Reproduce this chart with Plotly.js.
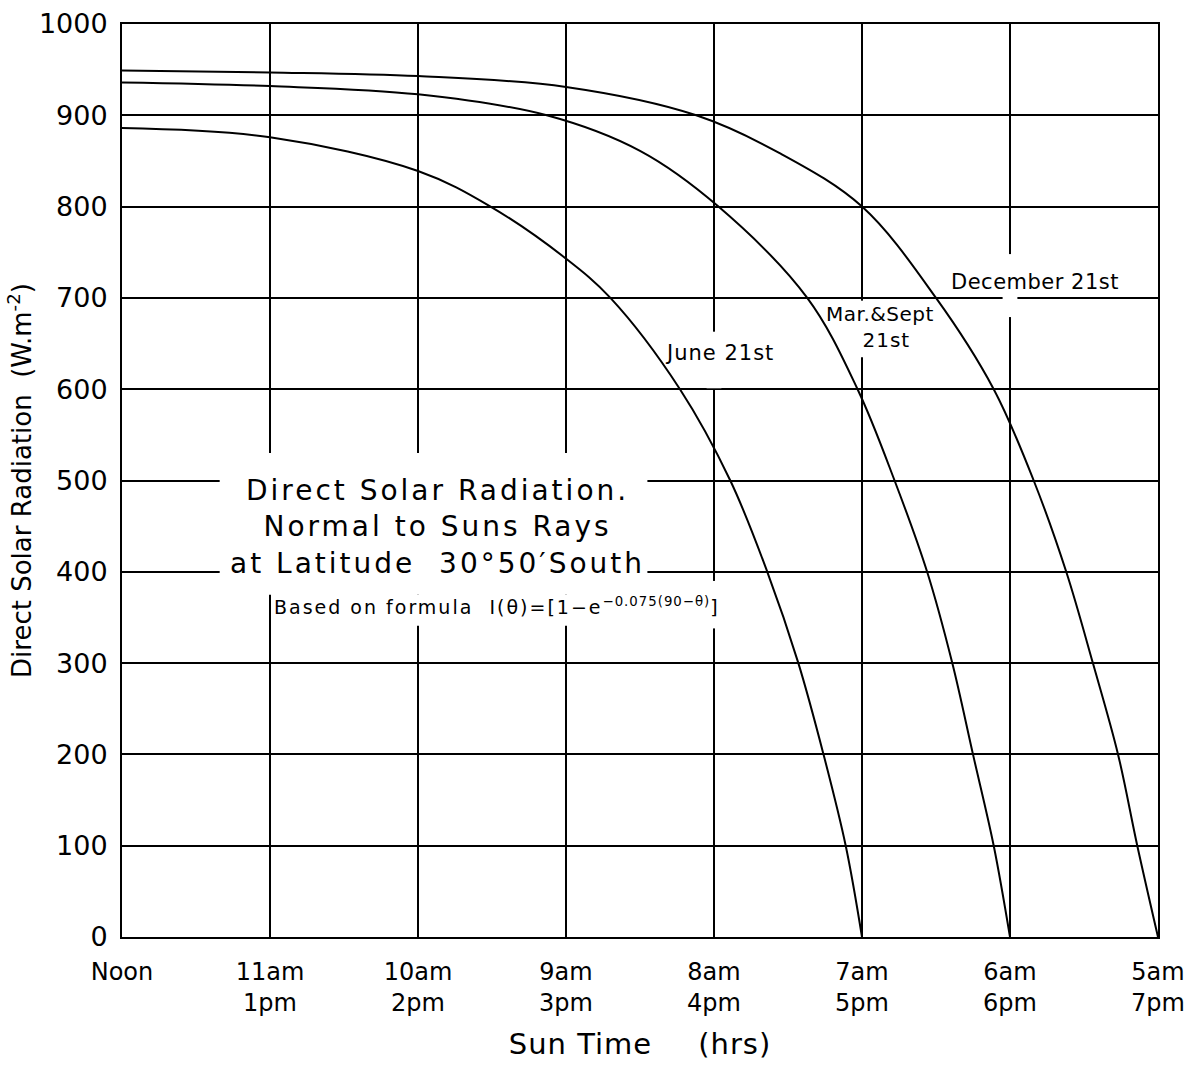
<!DOCTYPE html>
<html>
<head>
<meta charset="utf-8">
<script src="https://cdn.plot.ly/plotly-3.0.1.min.js"></script>
<style>
  html, body { margin: 0; padding: 0; background: #fff; }
  #chart { width: 1203px; height: 1067px; }
</style>
</head>
<body>
<div id="chart"></div>
<script>
// ---- data (hours from solar noon, W/m^2) ----
const hourTicks = [0, 1, 2, 3, 4, 5, 6, 7];
const hourLabels = ['Noon', '11am<br>1pm', '10am<br>2pm', '9am<br>3pm', '8am<br>4pm', '7am<br>5pm', '6am<br>6pm', '5am<br>7pm'];
const radTicks = [0, 100, 200, 300, 400, 500, 600, 700, 800, 900, 1000];

const juneHours = [0, 1, 2, 2.49, 3, 3.3, 3.77, 4.11, 4.36, 4.57, 4.74, 4.89, 5.0];
const juneRad   = [886, 876, 839, 800, 743, 700, 600, 500, 400, 300, 200, 100, 0];

const equinoxHours = [0, 1, 2, 2.87, 3.5, 4.03, 4.63, 4.97, 5.22, 5.44, 5.61, 5.75, 5.89, 6.0];
const equinoxRad   = [936, 932, 923, 900, 861, 800, 700, 600, 500, 400, 300, 200, 100, 0];

const decHours = [0, 1, 2, 3, 3.88, 4.45, 5.0, 5.5, 5.89, 6.16, 6.38, 6.56, 6.73, 6.86, 7.0];
const decRad   = [949, 947, 943, 931, 900, 858, 800, 700, 600, 500, 400, 300, 200, 100, 0];

const FONT = '"DejaVu Sans", "Liberation Sans", sans-serif';

function curve(x, y, name) {
  return {
    x: x, y: y, name: name, type: 'scatter', mode: 'lines',
    line: { color: '#000', width: 2, shape: 'spline', smoothing: 1 },
    hoverinfo: 'x+y', showlegend: false
  };
}

const data = [
  curve(juneHours, juneRad, 'June 21st'),
  curve(equinoxHours, equinoxRad, 'Mar. & Sept 21st'),
  curve(decHours, decRad, 'December 21st')
];

function eraser(x0, x1, y0, y1) {
  return { type: 'rect', xref: 'x', yref: 'y', x0: x0, x1: x1, y0: y0, y1: y1,
           fillcolor: '#fff', line: { width: 0 }, layer: 'between' };
}

function spaced(s, px) {
  return '<span style="letter-spacing:' + px + 'px">' + s + '</span>';
}

const layout = {
  width: 1203, height: 1067,
  margin: { l: 122, r: 45, t: 24, b: 130 },
  paper_bgcolor: '#fff', plot_bgcolor: '#fff',
  font: { family: FONT, color: '#000' },
  xaxis: {
    range: [0, 7], tickmode: 'array', tickvals: hourTicks, ticktext: hourLabels,
    showgrid: true, gridcolor: '#000', gridwidth: 2,
    showline: true, linecolor: '#000', linewidth: 2, mirror: true,
    zeroline: false, ticks: '', ticklabelstandoff: 12,
    tickfont: { size: 24, family: FONT },
    title: { text: spaced('Sun Time', 1) + '&nbsp;&nbsp;&nbsp;&nbsp;&nbsp;' + spaced('(hrs)', 1), font: { size: 29, family: FONT }, standoff: 18 }
  },
  yaxis: {
    range: [0, 1000], tickmode: 'array', tickvals: radTicks,
    showgrid: true, gridcolor: '#000', gridwidth: 2,
    showline: true, linecolor: '#000', linewidth: 2, mirror: true,
    zeroline: false, ticks: '', ticklabelstandoff: 7,
    tickfont: { size: 27, family: FONT },
    title: { text: 'Direct Solar Radiation&nbsp;&nbsp;(W.m<sup>-2</sup>)', font: { size: 26, family: FONT }, standoff: 0 }
  },
  shapes: [
    eraser(0.66, 3.55, 375, 530),
    eraser(1.1, 3.55, 341, 375),
    eraser(3.95, 4.05, 338, 390),
    eraser(3.95, 4.05, 601, 663),
    eraser(4.95, 5.05, 635, 697),
    eraser(5.95, 6.05, 679, 748)
  ],
  annotations: [
    { x: 2.13, y: 449, xref: 'x', yref: 'y', showarrow: false,
      text: spaced('Direct Solar Radiation.', 3) + '<br>' + spaced('Normal to Suns Rays', 3) + '<br>' + spaced('at Latitude&nbsp;&nbsp;30°50′South', 3),
      font: { size: 28, family: FONT }, align: 'center', yanchor: 'middle' },
    { x: 2.53, y: 363, xref: 'x', yref: 'y', showarrow: false,
      text: spaced('Based on formula&nbsp;&nbsp;I(θ)=[1−e', 2) + '<sup>' + spaced('−0.075(90−θ)', 1) + '</sup>]',
      font: { size: 19, family: FONT } },
    { x: 4.04, y: 640, xref: 'x', yref: 'y', showarrow: false,
      text: spaced('June 21st', 1), font: { size: 21, family: FONT } },
    { x: 5.12, y: 668, xref: 'x', yref: 'y', showarrow: false,
      text: spaced('Mar.&amp;Sept', 0.5) + '<br>&nbsp;&nbsp;' + spaced('21st', 1), font: { size: 20, family: FONT }, align: 'center' },
    { x: 6.17, y: 717, xref: 'x', yref: 'y', showarrow: false,
      text: spaced('December 21st', 0.5), font: { size: 21, family: FONT } }
  ]
};

Plotly.newPlot('chart', data, layout, { staticPlot: true, displayModeBar: false });
</script>
</body>
</html>
